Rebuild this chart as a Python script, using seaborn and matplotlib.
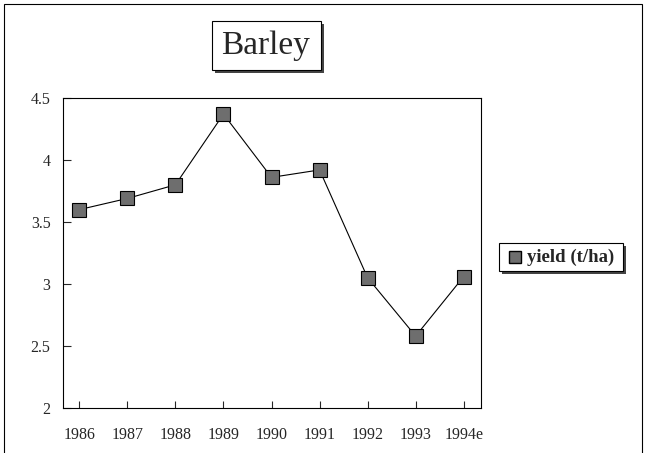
import matplotlib
matplotlib.use("Agg")
import matplotlib.pyplot as plt
import seaborn as sns
import pandas as pd
from matplotlib.patches import Rectangle

years = ["1986", "1987", "1988", "1989", "1990", "1991", "1992", "1993", "1994e"]
yield_tha = [3.60, 3.69, 3.80, 4.37, 3.86, 3.92, 3.05, 2.58, 3.06]

df = pd.DataFrame({"year": years, "yield": yield_tha})
df["pos"] = range(len(years))

sns.set_style("white")
plt.rcParams["font.family"] = ["Liberation Serif", "DejaVu Serif"]

W, H = 648, 453


def box(x0, y0, x1, y1, shadow=3):
    # pixel coords from top-left; white box with dark drop shadow
    fig.patches.append(Rectangle((x0 / W + shadow / W, 1 - (y1 + shadow) / H), (x1 - x0) / W, (y1 - y0) / H,
                                 transform=fig.transFigure, facecolor="#444444", edgecolor="none", zorder=0))
    fig.patches.append(Rectangle((x0 / W, 1 - y1 / H), (x1 - x0) / W, (y1 - y0) / H,
                                 transform=fig.transFigure, facecolor="white", edgecolor="black",
                                 linewidth=0.8, zorder=1))


fig = plt.figure(figsize=(W / 100, H / 100), dpi=100)
ax = fig.add_axes([63 / W, 1 - 408 / H, (481 - 63) / W, (408 - 98) / H])

sns.lineplot(data=df, x="pos", y="yield", ax=ax, color="black", linewidth=0.8,
             marker="s", markersize=10, markerfacecolor="#6e6e6e",
             markeredgecolor="black", markeredgewidth=0.8)

ax.set_xlim(-0.34, 8.36)
ax.set_ylim(2, 4.5)
ax.set_xticks(range(len(years)))
ax.set_xticklabels(years)
ax.set_yticks([2, 2.5, 3, 3.5, 4, 4.5])
ax.set_yticklabels(["2", "2.5", "3", "3.5", "4", "4.5"])
ax.set_xlabel("")
ax.set_ylabel("")
ax.tick_params(axis="x", direction="in", length=5, width=0.8, labelsize=11.5, pad=14, bottom=True)
ax.tick_params(axis="y", direction="in", length=6, width=0.8, labelsize=11.5, pad=9, left=True)
for s in ax.spines.values():
    s.set_color("black")
    s.set_linewidth(0.8)

# title box
box(212, 21, 321, 70)
fig.text(266 / W, 1 - 46 / H, "Barley", ha="center", va="center", fontsize=24, zorder=2)

# legend box
box(499, 243, 623, 271)
fig.lines.append(plt.Line2D([515 / W], [1 - 257 / H], marker="s", markersize=8,
                            markerfacecolor="#6e6e6e", markeredgecolor="black",
                            transform=fig.transFigure, zorder=2))
fig.text(527 / W, 1 - 257 / H, "yield (t/ha)", ha="left", va="center",
         fontsize=13.5, fontweight="bold", zorder=2)

# outer frame
fig.patches.append(Rectangle((4 / W, -0.01), 638 / W, 1 - 4 / H + 0.01,
                             transform=fig.transFigure, facecolor="none", edgecolor="black",
                             linewidth=0.8, zorder=3))

fig.savefig("out.png", dpi=100)
